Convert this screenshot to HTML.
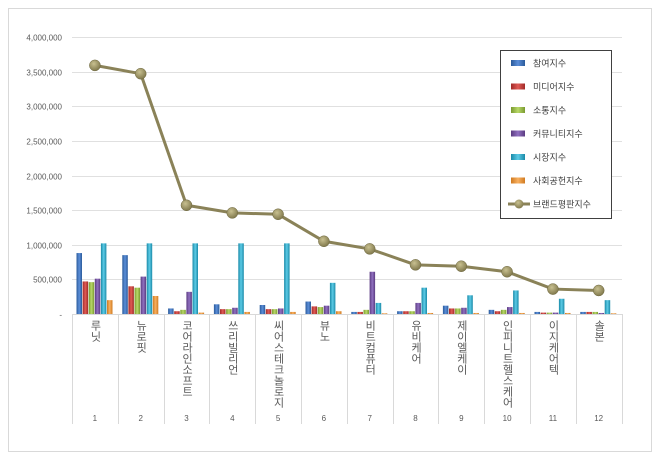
<!DOCTYPE html>
<html><head><meta charset="utf-8"><style>
body{margin:0;background:#fff;}
.lbl{position:absolute;writing-mode:vertical-rl;text-orientation:upright;font-family:"Liberation Sans","Noto Sans CJK KR",sans-serif;font-size:11px;color:#595959;line-height:12px;letter-spacing:0px;}
</style></head><body>
<div style="position:relative;width:660px;height:459px;overflow:hidden;">
<svg width="660" height="459" style="position:absolute;left:0;top:0" font-family="Liberation Sans, sans-serif">
<defs>
<linearGradient id="gb" x1="0" x2="1"><stop offset="0" stop-color="#2a5a9a"/><stop offset=".5" stop-color="#5b8ed8"/><stop offset="1" stop-color="#2a5a9a"/></linearGradient>
<linearGradient id="gr" x1="0" x2="1"><stop offset="0" stop-color="#a02a28"/><stop offset=".5" stop-color="#e05a55"/><stop offset="1" stop-color="#a02a28"/></linearGradient>
<linearGradient id="gg" x1="0" x2="1"><stop offset="0" stop-color="#7a9a30"/><stop offset=".5" stop-color="#b8d868"/><stop offset="1" stop-color="#7a9a30"/></linearGradient>
<linearGradient id="gp" x1="0" x2="1"><stop offset="0" stop-color="#5a3a80"/><stop offset=".5" stop-color="#9070c0"/><stop offset="1" stop-color="#5a3a80"/></linearGradient>
<linearGradient id="gc" x1="0" x2="1"><stop offset="0" stop-color="#1a8aa8"/><stop offset=".5" stop-color="#5ccbe6"/><stop offset="1" stop-color="#1a8aa8"/></linearGradient>
<linearGradient id="go" x1="0" x2="1"><stop offset="0" stop-color="#d07a20"/><stop offset=".5" stop-color="#f8b060"/><stop offset="1" stop-color="#d07a20"/></linearGradient>
<radialGradient id="gm" cx=".4" cy=".35" r=".7"><stop offset="0" stop-color="#c8c090"/><stop offset="1" stop-color="#7c7448"/></radialGradient>
</defs>
<rect x="8.5" y="8.5" width="643" height="443" fill="#fff" stroke="#d9d9d9"/>
<g id="grid" stroke="#e0e0e0" stroke-width="1"></g>
<g id="ylab" font-size="8" fill="#595959" text-anchor="end"></g>
<g id="bars"></g>
<g id="cat" stroke="#d9d9d9"></g>
<g id="nums" font-size="8" fill="#595959" text-anchor="middle"></g>
<polyline id="ln" fill="none" stroke="#8a8258" stroke-width="3"/>
<g id="mk"></g>
<rect x="500.5" y="50.5" width="111" height="168" fill="#fff" stroke="#404040"/>
<g id="leg" font-size="9" fill="#404040" font-family="Liberation Sans, Noto Sans CJK KR, sans-serif"></g>
</svg>
<div id="labels"></div>
</div>
<script>
const NS="http://www.w3.org/2000/svg";
function el(p,t,a){const e=document.createElementNS(NS,t);for(const k in a)e.setAttribute(k,a[k]);document.getElementById(p).appendChild(e);return e;}
const y0=314,yt=37,X0=72,W=45.8;
const Y=v=>y0-(v/4000)*(y0-yt);
for(let i=0;i<=8;i++){const v=i*500,y=Math.round(Y(v))+.5;
 if(i>0)el('grid','line',{x1:X0,x2:622,y1:y,y2:y});
 const t=el('ylab','text',{x:62,y:y+3});t.textContent=i==0?'-':(v*1000).toLocaleString('en-US');}
el('cat','line',{x1:X0,x2:622,y1:y0+.5,y2:y0+.5});
const d=[[880,470,460,510,1020,200,3590],[850,400,380,540,1020,260,3470],[80,40,60,320,1020,20,1570],[140,70,70,90,1020,30,1460],[130,70,70,80,1020,30,1440],[180,110,100,120,450,40,1050],[30,30,60,610,160,10,940],[40,40,40,160,380,15,710],[120,80,80,90,270,15,690],[60,40,60,100,340,15,610],[30,20,20,20,220,15,360],[30,30,30,15,200,10,340]];
const g=['gb','gr','gg','gp','gc','go'];
const names=['루닛','뉴로핏','코어라인소프트','쓰리빌리언','씨어스테크놀로지','뷰노','비트컴퓨터','유비케어','제이엘케이','인피니트헬스케어','이지케어텍','솔본'];
let pts=[];
d.forEach((r,i)=>{const cx=X0+i*W;
 for(let j=0;j<6;j++){const h=y0-Y(r[j]);el('bars','rect',{x:cx+4.5+j*6.1,y:y0-h,width:5.5,height:h,fill:`url(#${g[j]})`});}
 const xl=Math.round(cx)+.5;el('cat','line',{x1:xl,x2:xl,y1:y0,y2:424});
 const mx=cx+W/2;pts.push(mx+','+Y(r[6]));
 const t=el('nums','text',{x:mx,y:421});t.textContent=i+1;
 const dv=document.createElement('div');dv.className='lbl';dv.textContent=names[i];dv.style.left=(mx-6)+'px';dv.style.top='320px';document.getElementById('labels').appendChild(dv);
});
el('cat','line',{x1:622.5,x2:622.5,y1:y0,y2:424});
document.getElementById('ln').setAttribute('points',pts.join(' '));
pts.forEach(p=>{const [x,y]=p.split(',');el('mk','circle',{cx:x,cy:y,r:5.5,fill:'url(#gm)',stroke:'#6e6840','stroke-width':.5});});
const ln=['참여지수','미디어지수','소통지수','커뮤니티지수','시장지수','사회공헌지수','브랜드평판지수'];
ln.forEach((n,i)=>{const y=63+i*23.5;
 if(i<6)el('leg','rect',{x:511,y:y-3,width:14,height:6,fill:`url(#${g[i]})`});
 else{el('leg','line',{x1:508,x2:530,y1:y,y2:y,stroke:'#8a8258','stroke-width':3});el('leg','circle',{cx:519,cy:y,r:4.5,fill:'url(#gm)'});}
 const t=el('leg','text',{x:533,y:y+3.5});t.textContent=n;});
</script>
</body></html>
